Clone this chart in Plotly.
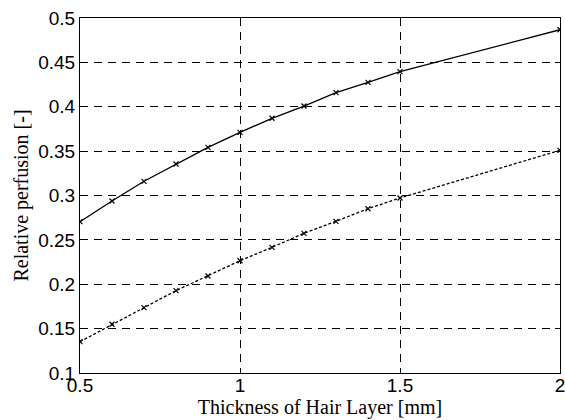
import plotly.graph_objects as go

thickness = [0.5, 0.6, 0.7, 0.8, 0.9, 1.0, 1.1, 1.2, 1.3, 1.4, 1.5, 2.0]
upper = [0.2705, 0.2938, 0.316, 0.3355, 0.3543, 0.3712, 0.387, 0.4008, 0.4159, 0.4275, 0.4395, 0.4868]
lower = [0.1353, 0.1549, 0.1736, 0.1928, 0.2093, 0.2265, 0.2416, 0.2574, 0.2709, 0.2851, 0.2972, 0.3509]

x_ticks = [0.5, 1, 1.5, 2]
x_ticklabels = ["0.5", "1", "1.5", "2"]
y_ticks = [0.1, 0.15, 0.2, 0.25, 0.3, 0.35, 0.4, 0.45, 0.5]
y_ticklabels = ["0.1", "0.15", "0.2", "0.25", "0.3", "0.35", "0.4", "0.45", "0.5"]

fig = go.Figure()
fig.add_trace(go.Scatter(x=thickness, y=upper, mode="lines+markers",
                         line=dict(color="black", width=1.3),
                         marker=dict(symbol="x-thin", size=5, line=dict(color="black", width=1.2))))
fig.add_trace(go.Scatter(x=thickness, y=lower, mode="lines+markers",
                         line=dict(color="black", width=1.3, dash="3px,2px"),
                         marker=dict(symbol="x-thin", size=5, line=dict(color="black", width=1.2))))

axis_common = dict(showline=True, linecolor="black", linewidth=1, mirror="ticks",
                   ticks="inside", ticklen=5, tickcolor="black",
                   showgrid=True, gridcolor="black", gridwidth=1, griddash="8px,6px",
                   zeroline=False, automargin=False, ticklabeloverflow="allow",
                   tickfont=dict(family="Liberation Sans, Arial", size=19, color="black"))

fig.update_xaxes(range=[0.5, 2], tickvals=x_ticks, ticktext=x_ticklabels,
                 ticklabelstandoff=-5,
                 title=dict(text="Thickness of Hair Layer [mm]", standoff=0,
                            font=dict(family="Liberation Serif, Times New Roman", size=20, color="black")),
                 **axis_common)
fig.update_yaxes(range=[0.1, 0.5], tickvals=y_ticks, ticktext=y_ticklabels,
                 title=dict(text="Relative perfusion [-]", standoff=4,
                            font=dict(family="Liberation Serif, Times New Roman", size=20, color="black")),
                 **axis_common)

fig.update_layout(width=565, height=420, showlegend=False,
                  margin=dict(l=80, r=5, t=18, b=47),
                  plot_bgcolor="white", paper_bgcolor="white")

fig.write_html("out.html", config={"displayModeBar": False},
               post_script="document.body.style.margin='0';document.body.style.overflow='hidden';")
